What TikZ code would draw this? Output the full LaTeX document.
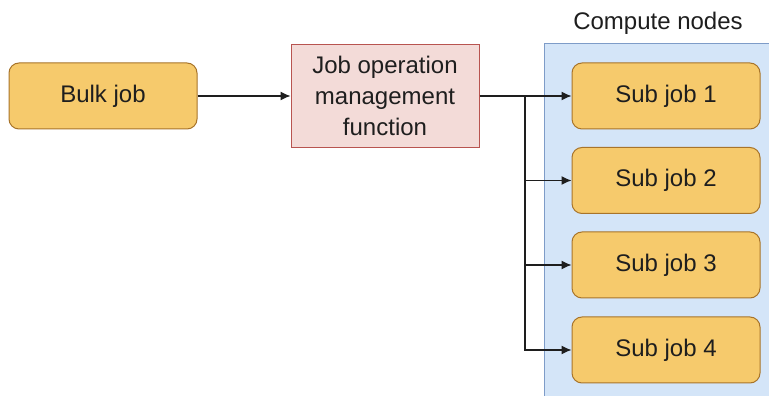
\documentclass[tikz,border=0pt]{standalone}
\usepackage{fontspec}
\setmainfont{Liberation Sans}
\usetikzlibrary{positioning,arrows.meta}

\definecolor{jobfill}{HTML}{F6CA6C}
\definecolor{jobline}{HTML}{A8742A}
\definecolor{opfill}{HTML}{F3DBD8}
\definecolor{opline}{HTML}{B85450}
\definecolor{nodefill}{HTML}{D4E5F8}
\definecolor{nodeline}{HTML}{7E9CC8}
\definecolor{textcol}{HTML}{1E1E1E}

\tikzset{
	jobbox/.style={draw=jobline,fill=jobfill,rounded corners=10pt,line width=1pt,
		minimum width=188pt,minimum height=66pt,text=textcol,
		font=\fontsize{24}{29}\selectfont},
	opbox/.style={draw=opline,fill=opfill,line width=1pt,
		minimum width=188pt,minimum height=103pt,text=textcol,align=center,
		font=\fontsize{24}{31}\selectfont},
	flow/.style={draw=textcol,line width=1.2pt,-{Latex[length=10pt,width=9pt]}},
	link/.style={draw=textcol,line width=1.2pt}
}

\begin{document}
\begin{tikzpicture}[x=1pt,y=1pt]
	\useasboundingbox (0,0) rectangle (769,396);
	\fill[white] (0,0) rectangle (769,396);

	% compute nodes area
	\filldraw[fill=nodefill,draw=nodeline,line width=1pt] (544,-10) rectangle (790,352);
	\node[text=textcol,font=\fontsize{24}{29}\selectfont] (cnlabel) at (658,373) {Compute nodes};

	\node[jobbox] (bulk) at (103,300) {Bulk job};
	\node[opbox] (jomf) at (385,300) {Job operation\\management\\function};

	\foreach \i/\y in {1/300,2/215.5,3/131,4/46}
	{
		\node[jobbox] (sub\i) at (666,\y) {Sub job \i};
	}

	\coordinate (split) at (525,300);

	\draw[flow] (bulk) -- (jomf);
	\draw[link] (jomf.east) -- (split);
	\foreach \i in {1,...,4}
	{
		\draw[flow] (split) |- (sub\i.west);
	}
\end{tikzpicture}
\end{document}
